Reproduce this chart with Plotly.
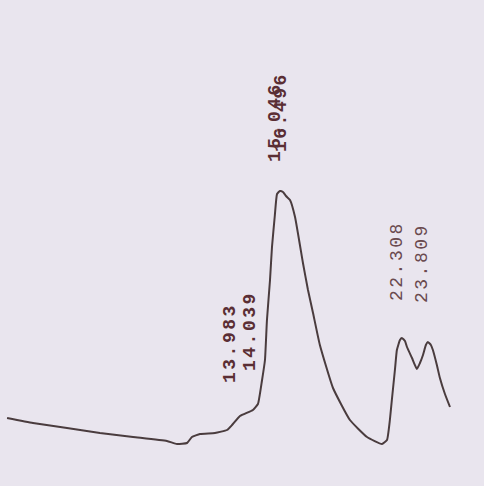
import plotly.graph_objects as go

# Retention time (min) and detector signal (mV)
time_min = [0.31, 1.75, 3.64, 5.47, 7.31, 9.19, 9.75, 10.31, 10.58, 11.03, 11.86, 12.53,
            12.81, 13.25, 13.97, 14.25, 14.47, 14.64, 14.75, 14.92, 15.03, 15.19, 15.31,
            15.47, 15.64, 15.81, 16.03, 16.31, 16.75, 17.03, 17.31, 17.69, 18.42, 19.36,
            20.31, 21.14, 21.42, 21.58, 21.69, 21.86, 21.97, 22.14, 22.25, 22.42, 22.53,
            22.81, 23.08, 23.25, 23.42, 23.58, 23.69, 23.86, 23.97, 24.19, 24.36, 24.64, 24.92]
signal_mv = [5.4, 4.4, 3.4, 2.4, 1.6, 0.8, 0.2, 0.4, 1.6, 2.2, 2.4, 3.0,
             4.0, 5.8, 7.0, 8.2, 12.8, 17.0, 25.0, 33.0, 39.6, 46.0, 50.2,
             50.8, 50.6, 49.8, 49.0, 45.6, 36.4, 31.0, 26.4, 20.0, 11.4, 5.0,
             1.6, 0.2, 1.0, 5.0, 9.0, 15.0, 19.0, 21.0, 21.4, 20.8, 19.6,
             17.4, 15.2, 16.4, 18.0, 20.0, 20.6, 20.0, 19.0, 16.0, 13.4, 10.2, 7.6]

# Peak retention-time labels printed by the integrator
peak_labels = ["13.983", "14.039", "15.046", "16.496", "22.308", "23.809"]
# label centre positions in pixels of the 484x486 page (x, y)
label_px = [(230, 343), (250, 331), (275, 122), (281, 112), (397, 261), (422, 263)]
label_bold = [True, True, True, True, False, False]

W, H = 484, 486

fig = go.Figure()
fig.add_trace(go.Scatter(
    x=time_min, y=signal_mv, mode="lines",
    line=dict(color="#4a3c3e", width=2, shape="spline", smoothing=0.4),
    hoverinfo="skip", showlegend=False,
))

for txt, (px, py), bold in zip(peak_labels, label_px, label_bold):
    t = f'<span style="letter-spacing:2.5px">{txt}</span>'
    if bold:
        t = f"<b>{t}</b>"
    fig.add_annotation(
        x=px / W, y=1 - py / H, xref="paper", yref="paper",
        text=t, showarrow=False, textangle=-90,
        font=dict(family="Liberation Mono", size=18,
                  color="#5a2e34" if bold else "#6a4a4e"),
        xanchor="center", yanchor="middle",
    )

fig.update_layout(
    width=W, height=H,
    margin=dict(l=0, r=0, t=0, b=0),
    paper_bgcolor="#e9e5ee", plot_bgcolor="#e9e5ee",
    xaxis=dict(range=[-0.083, 26.81], visible=False, fixedrange=True),
    yaxis=dict(range=[-8.2, 89.0], visible=False, fixedrange=True),
    showlegend=False,
)

fig.write_html(
    "out.html",
    config={"displayModeBar": False},
    post_script="document.body.style.margin='0';document.body.style.background='#e9e5ee';document.body.style.overflow='hidden';",
)
